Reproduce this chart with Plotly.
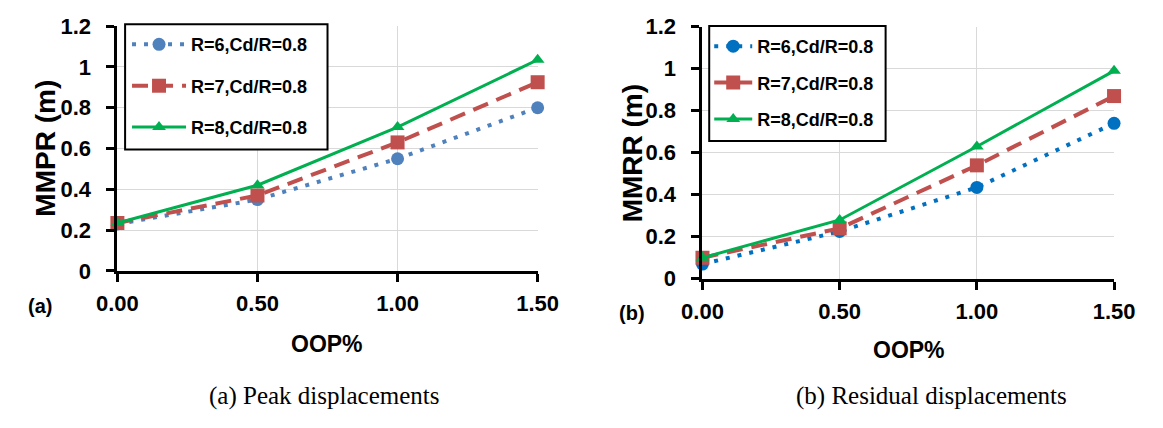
import plotly.graph_objects as go

W, H = 1163, 428

oop = [0.0, 0.5, 1.0, 1.5]
series_names = ["R=6,Cd/R=0.8", "R=7,Cd/R=0.8", "R=8,Cd/R=0.8"]

peak_r6 = [0.23, 0.35, 0.55, 0.80]
peak_r7 = [0.235, 0.37, 0.63, 0.925]
peak_r8 = [0.235, 0.42, 0.705, 1.035]

resid_r6 = [0.07, 0.225, 0.435, 0.74]
resid_r7 = [0.10, 0.24, 0.54, 0.87]
resid_r8 = [0.10, 0.28, 0.63, 0.99]

x_ticks = [0.0, 0.5, 1.0, 1.5]
y_ticks = [0, 0.2, 0.4, 0.6, 0.8, 1.0, 1.2]
y_tick_text = ["0", "0.2", "0.4", "0.6", "0.8", "1", "1.2"]

AX_FONT = "Liberation Sans"
RED = "#C0504D"
GREEN = "#00B050"

def px(x):
    return x / W

def py(y):
    return 1 - y / H

fig = go.Figure()

def add_series(vals_list, xa, ya, legend, blue):
    styles = [
        dict(line=dict(color=blue, width=4, dash="4px,8px"),
             marker=dict(symbol="circle", size=13, color=blue)),
        dict(line=dict(color=RED, width=4, dash="16px,9px"),
             marker=dict(symbol="square", size=14, color=RED)),
        dict(line=dict(color=GREEN, width=3),
             marker=dict(symbol="triangle-up", size=12, color=GREEN)),
    ]
    for name, vals, st in zip(series_names, vals_list, styles):
        fig.add_trace(go.Scatter(
            x=oop, y=vals, name=name, mode="lines+markers",
            line=st["line"], marker=st["marker"],
            xaxis=xa, yaxis=ya, legend=legend,
            legendgroup=legend + name, cliponaxis=False,
        ))

add_series([peak_r6, peak_r7, peak_r8], "x", "y", "legend", "#4F81BD")
add_series([resid_r6, resid_r7, resid_r8], "x2", "y2", "legend2", "#0070C0")

xcommon = dict(
    range=[0, 1.5], tickvals=x_ticks, tickformat=".2f",
    showline=True, linecolor="black", linewidth=3,
    ticks="outside", ticklen=8, tickwidth=3, tickcolor="black",
    showgrid=True, gridcolor="#D9D9D9", gridwidth=1, zeroline=False,
    tickfont=dict(family=AX_FONT, size=22, color="black", weight="bold"),
    ticklabelstandoff=3,
)
ycommon = dict(
    range=[0, 1.2], tickvals=y_ticks, ticktext=y_tick_text,
    showline=True, linecolor="black", linewidth=3,
    ticks="outside", ticklen=8, tickwidth=3, tickcolor="black",
    showgrid=True, gridcolor="#D9D9D9", gridwidth=1, zeroline=False,
    tickfont=dict(family=AX_FONT, size=22, color="black", weight="bold"),
    ticklabelstandoff=11,
)

fig.update_layout(
    width=W, height=H,
    margin=dict(l=0, r=0, t=0, b=0),
    paper_bgcolor="white", plot_bgcolor="white",
    xaxis=dict(domain=[px(100), px(536)], anchor="y", **xcommon),
    yaxis=dict(domain=[py(275), py(15)], anchor="x", **ycommon),
    xaxis2=dict(domain=[px(707), px(1134)], anchor="y2", **xcommon),
    yaxis2=dict(domain=[py(283.3), py(15.7)], anchor="x2", **ycommon),
    legend=dict(
        x=px(110), y=py(15), xanchor="left", yanchor="top",
        bgcolor="rgba(0,0,0,0)", borderwidth=0,
        font=dict(family=AX_FONT, size=18, color="black", weight="bold"),
        traceorder="grouped", tracegroupgap=15, itemwidth=54,
    ),
    legend2=dict(
        x=px(714), y=py(17), xanchor="left", yanchor="top",
        bgcolor="rgba(0,0,0,0)", borderwidth=0,
        font=dict(family=AX_FONT, size=18, color="black", weight="bold"),
        traceorder="grouped", tracegroupgap=10, itemwidth=38,
    ),
    showlegend=True,
)

# legend frames
for (x0, y0, x1, y1) in [(108, 13, 318, 146), (714, 15, 897, 137)]:
    fig.add_shape(type="rect", xref="paper", yref="paper",
                  x0=px(x0), x1=px(x1), y0=py(y1), y1=py(y0),
                  fillcolor="white", line=dict(color="black", width=2),
                  layer="above")

def ann(text, x, y, size, family=AX_FONT, bold=True, angle=0):
    fig.add_annotation(
        text=text, x=px(x), y=py(y), xref="paper", yref="paper",
        xanchor="center", yanchor="middle", showarrow=False,
        textangle=angle,
        font=dict(family=family, size=size, color="black",
                  weight="bold" if bold else "normal"),
    )

ann("MMPR (m)", 25, 145, 28, angle=-90)
ann("MMRR (m)", 634, 150, 28, angle=-90)
ann("(a)", 20, 312, 20)
ann("(b)", 634, 320, 20)
ann("OOP%", 317, 353, 23)
ann("OOP%", 921, 359, 23)
ann("(a) Peak displacements", 314, 408, 25, family="Liberation Serif", bold=False)
ann("(b) Residual displacements", 945, 408, 25, family="Liberation Serif", bold=False)

fig.write_html("out.html")
